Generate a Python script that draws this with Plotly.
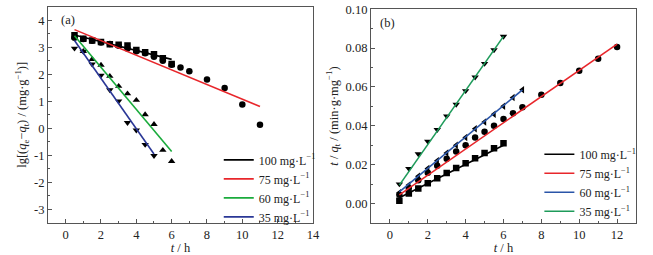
import plotly.graph_objects as go

FONT = "Liberation Serif"

# ---------- Panel (a): pseudo-first-order ----------
t_100a = [0.5, 1, 1.5, 2, 2.5, 3, 3.5, 4, 4.5, 5, 5.5, 6]
y_100a = [3.44, 3.31, 3.25, 3.19, 3.11, 3.09, 3.06, 2.90, 2.81, 2.74, 2.59, 2.38]
t_75a = [0.5, 1, 1.5, 2, 2.5, 3, 3.5, 4, 4.5, 5, 5.5, 6, 6.5, 7, 8, 9, 10, 11]
y_75a = [3.35, 3.30, 3.24, 3.17, 3.12, 3.05, 2.95, 2.85, 2.78, 2.65, 2.50, 2.35,
         2.25, 2.11, 1.81, 1.49, 0.88, 0.13]
t_60a = [0.5, 1, 1.5, 2, 2.5, 3, 3.5, 4, 4.5, 5, 5.5, 6]
y_60a = [3.35, 2.85, 2.55, 2.34, 1.93, 1.56, 1.28, 1.04, 0.51, 0.15, -0.81, -1.22]
t_35a = [0.5, 1, 1.5, 2, 2.5, 3, 3.5, 4, 4.5, 5]
y_35a = [2.96, 2.84, 2.37, 1.96, 1.42, 1.01, 0.21, -0.07, -0.60, -1.01]

fit_a = {
    "100 mg·L<sup>−1</sup>": ([0.5, 6], [3.45, 2.55], "#000000"),
    "75 mg·L<sup>−1</sup>": ([0.5, 11], [3.65, 0.81], "#e8262b"),
    "60 mg·L<sup>−1</sup>": ([0.5, 6], [3.42, -0.86], "#1aab3c"),
    "35 mg·L<sup>−1</sup>": ([0.5, 5], [3.25, -0.95], "#2a3796"),
}

# ---------- Panel (b): pseudo-second-order ----------
t_100b = [0.5, 1, 1.5, 2, 2.5, 3, 3.5, 4, 4.5, 5, 5.5, 6]
y_100b = [0.0015, 0.0052, 0.0078, 0.0105, 0.0130, 0.0157, 0.0183, 0.0207,
          0.0233, 0.0260, 0.0285, 0.0310]
t_75b = [0.5, 1, 1.5, 2, 2.5, 3, 3.5, 4, 4.5, 5, 5.5, 6, 6.5, 7, 8, 9, 10, 11, 12]
y_75b = [0.0045, 0.0080, 0.0120, 0.0158, 0.0195, 0.0230, 0.0268, 0.0300,
         0.0340, 0.0370, 0.0400, 0.0435, 0.0465, 0.0495, 0.0560, 0.0620,
         0.0683, 0.0745, 0.0805]
t_60b = [0.5, 1, 1.5, 2, 2.5, 3, 3.5, 4, 4.5, 5, 5.5, 6, 6.5, 7]
y_60b = [0.0055, 0.0095, 0.0140, 0.0180, 0.0220, 0.0260, 0.0300, 0.0340,
         0.0385, 0.0420, 0.0460, 0.0500, 0.0545, 0.0585]
t_35b = [0.5, 1, 1.5, 2, 2.5, 3, 3.5, 4, 4.5, 5, 5.5, 6]
y_35b = [0.0100, 0.0180, 0.0255, 0.0320, 0.0380, 0.0450, 0.0510, 0.0580,
         0.0650, 0.0720, 0.0790, 0.0860]

fit_b = {
    "100 mg·L<sup>−1</sup>": ([0.5, 6], [0.0030, 0.0300], "#000000"),
    "75 mg·L<sup>−1</sup>": ([0.5, 12], [0.0045, 0.0820], "#e8262b"),
    "60 mg·L<sup>−1</sup>": ([0.5, 7], [0.0060, 0.0585], "#2a55a8"),
    "35 mg·L<sup>−1</sup>": ([0.5, 6], [0.0095, 0.0860], "#1e9b5a"),
}

x_ticks_a = [0, 2, 4, 6, 8, 10, 12, 14]
y_ticks_a = [4, 3, 2, 1, 0, -1, -2, -3]
y_ticktext_a = ["4", "3", "2", "1", "0", "-1", "-2", "-3"]
x_ticks_b = [0, 2, 4, 6, 8, 10, 12]
y_ticks_b = [0.00, 0.02, 0.04, 0.06, 0.08, 0.10]

fig = go.Figure()

msize = 6.5
pts_a = [(t_100a, y_100a, "square"), (t_75a, y_75a, "circle"),
         (t_60a, y_60a, "triangle-up"), (t_35a, y_35a, "triangle-down")]
for tx, ty, sym in pts_a:
    fig.add_trace(go.Scatter(x=tx, y=ty, mode="markers", xaxis="x", yaxis="y",
                             marker=dict(symbol=sym, size=msize, color="black"),
                             showlegend=False))
for name, (fx, fy, col) in fit_a.items():
    fig.add_trace(go.Scatter(x=fx, y=fy, mode="lines", name=name, xaxis="x", yaxis="y",
                             line=dict(color=col, width=1.6), legend="legend"))

pts_b = [(t_100b, y_100b, "square"), (t_75b, y_75b, "circle"),
         (t_60b, y_60b, "triangle-left"), (t_35b, y_35b, "triangle-down")]
for tx, ty, sym in pts_b:
    fig.add_trace(go.Scatter(x=tx, y=ty, mode="markers", xaxis="x2", yaxis="y2",
                             marker=dict(symbol=sym, size=msize, color="black"),
                             showlegend=False))
for name, (fx, fy, col) in fit_b.items():
    fig.add_trace(go.Scatter(x=fx, y=fy, mode="lines", name=name, xaxis="x2", yaxis="y2",
                             line=dict(color=col, width=1.6), legend="legend2"))

axis_common = dict(showgrid=False, zeroline=False, showline=True, linecolor="#555555",
                   linewidth=1, mirror=True, ticks="inside", ticklen=4, tickwidth=1,
                   tickcolor="#555555", automargin=False,
                   tickfont=dict(family=FONT, size=12.5, color="#222"))

def minor(d):
    return dict(ticks="inside", ticklen=2, tickcolor="#555555", dtick=d, tick0=0)

fig.update_layout(
    width=653, height=255, margin=dict(l=0, r=0, t=0, b=0),
    paper_bgcolor="white", plot_bgcolor="white",
    font=dict(family=FONT, size=12.5, color="#222"),
    xaxis=dict(axis_common, domain=[0.0735, 0.4793], range=[-1, 14], anchor="y",
               tickmode="array", tickvals=x_ticks_a, minor=minor(1),
               title=dict(text="<i>t</i> / h", font=dict(family=FONT, size=12.5), standoff=0)),
    yaxis=dict(axis_common, domain=[0.1255, 0.974], range=[-3.5, 4.5], anchor="x",
               tickmode="array", tickvals=y_ticks_a, ticktext=y_ticktext_a, minor=minor(0.5),
               title=dict(text="lg[(<i>q</i><sub>e</sub>−<i>q</i><sub>t</sub>) / (mg·g<sup>−1</sup>)]",
                          font=dict(family=FONT, size=12.5), standoff=4)),
    xaxis2=dict(axis_common, domain=[0.5681, 0.974], range=[-1, 13], anchor="y2",
                tickmode="array", tickvals=x_ticks_b, minor=minor(1),
                title=dict(text="<i>t</i> / h", font=dict(family=FONT, size=12.5), standoff=0)),
    yaxis2=dict(axis_common, domain=[0.1255, 0.964], range=[-0.01, 0.10], anchor="x2",
                tickmode="array", tickvals=y_ticks_b, tickformat=".2f", minor=minor(0.01),
                title=dict(text="<i>t</i> / <i>q</i><sub>t</sub> / (min·g·mg<sup>−1</sup>)",
                           font=dict(family=FONT, size=12.5), standoff=4)),
    legend=dict(x=0.335, y=0.43, xanchor="left", yanchor="top", bgcolor="rgba(0,0,0,0)",
                font=dict(family=FONT, size=12), tracegroupgap=0, itemwidth=30),
    legend2=dict(x=0.826, y=0.452, xanchor="left", yanchor="top", bgcolor="rgba(0,0,0,0)",
                 font=dict(family=FONT, size=12), tracegroupgap=0, itemwidth=30),
    annotations=[
        dict(text="(a)", xref="x", yref="y", x=0.13, y=4.0, showarrow=False,
             xanchor="center", yanchor="middle", font=dict(family=FONT, size=12.5)),
        dict(text="(b)", xref="x2", yref="y2", x=-0.15, y=0.093, showarrow=False,
             xanchor="center", yanchor="middle", font=dict(family=FONT, size=12.5)),
    ],
)

fig.write_html("out.html", config={"displayModeBar": False},
               post_script="document.body.style.margin='0';")
